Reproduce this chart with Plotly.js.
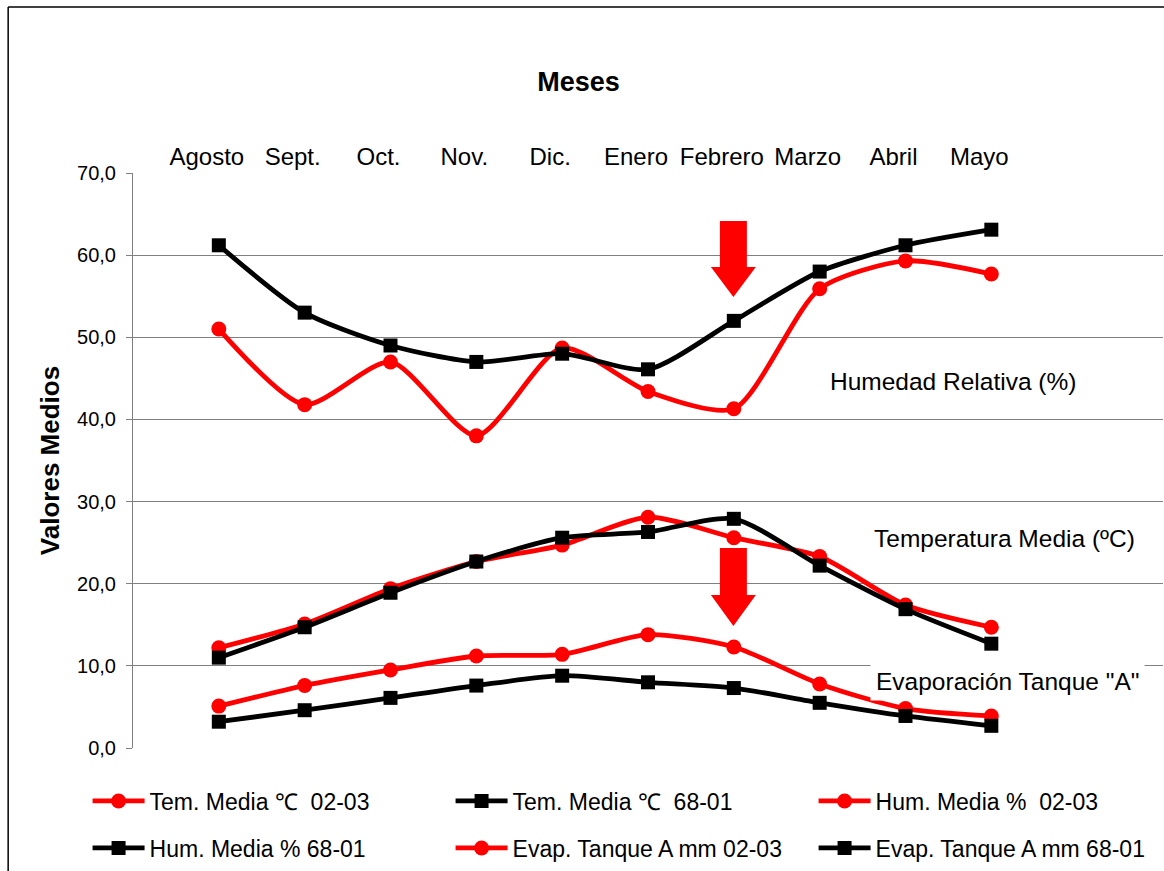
<!DOCTYPE html>
<html>
<head>
<meta charset="utf-8">
<script src="https://cdn.plot.ly/plotly-3.0.1.min.js"></script>
<style>html,body{margin:0;padding:0;background:#fff;}#chart{width:1164px;height:871px;}</style>
</head>
<body>
<div id="chart"></div>
<script>
const months = ["Agosto","Sept.","Oct.","Nov.","Dic.","Enero","Febrero","Marzo","Abril","Mayo"];
const temMedia0203 = [12.2, 15.1, 19.4, 22.7, 24.7, 28.1, 25.6, 23.3, 17.4, 14.7];
const temMedia6801 = [11.0, 14.7, 18.9, 22.7, 25.6, 26.3, 27.9, 22.2, 16.9, 12.7];
const humMedia0203 = [51.0, 41.8, 47.0, 38.0, 48.7, 43.4, 41.3, 55.9, 59.3, 57.7];
const humMedia6801 = [61.2, 53.0, 49.0, 47.0, 48.0, 46.1, 52.0, 58.0, 61.2, 63.1];
const evap0203 = [5.1, 7.6, 9.5, 11.2, 11.4, 13.8, 12.3, 7.8, 4.8, 3.9];
const evap6801 = [3.2, 4.6, 6.1, 7.6, 8.8, 8.0, 7.3, 5.5, 3.9, 2.7];
const seriesNames = ["Tem. Media ℃  02-03","Tem. Media ℃  68-01","Hum. Media %  02-03","Hum. Media % 68-01","Evap. Tanque A mm 02-03","Evap. Tanque A mm 68-01"];
const labels = ["Humedad Relativa (%)","Temperatura Media (ºC)","Evaporación Tanque \"A\""];

const RED = "#ff0000", BLACK = "#000000";
const font = "Liberation Sans, Arial, sans-serif";

function tr(y, name, color, sym, leg){
  return {
    x: months, y: y, name: name, type: "scatter", mode: "lines+markers", legend: leg,
    line: {color: color, width: 4.8, shape: "spline", smoothing: 0.7},
    marker: {color: color, symbol: sym, size: sym === "circle" ? 15 : 14, line:{width:0}},
    hoverinfo: "x+y+name"
  };
}
const data = [
  tr(temMedia0203, seriesNames[0], RED, "circle", "legend"),
  tr(temMedia6801, seriesNames[1], BLACK, "square", "legend"),
  tr(humMedia0203, seriesNames[2], RED, "circle", "legend"),
  tr(humMedia6801, seriesNames[3], BLACK, "square", "legend2"),
  tr(evap0203, seriesNames[4], RED, "circle", "legend2"),
  tr(evap6801, seriesNames[5], BLACK, "square", "legend2"),
  {x: months, y: months.map(() => null), xaxis: "x2", yaxis: "y", showlegend: false, hoverinfo: "skip", mode: "markers"}
];

function arrow(xc, top, base, tip){
  const s = 0.0131, h = 0.0218;
  return {type:"path", xref:"paper", yref:"y", fillcolor:RED, line:{width:0},
    path:`M ${xc-s},${top} L ${xc+s},${top} L ${xc+s},${base} L ${xc+h},${base} L ${xc},${tip} L ${xc-h},${base} L ${xc-s},${base} Z`};
}

const legendBase = {orientation: "h", x: -0.0441, xanchor: "left", yref: "paper", yanchor: "middle",
  itemwidth: 52, entrywidth: 296, entrywidthmode: "pixels", font: {family: font, size: 23, color: "#000"}, bgcolor: "rgba(0,0,0,0)"};

const layout = {
  width: 1164, height: 871,
  margin: {l: 133, r: 1, t: 173, b: 123, autoexpand: false},
  paper_bgcolor: "#fff", plot_bgcolor: "#fff",
  separators: ",.",
  showlegend: true,
  title: {text: "<b>Meses</b>", font: {family: font, size: 27, color: "#000"}, x: 0.497, xref: "container", y: 0.906, yref: "container", yanchor: "middle"},
  xaxis: {type: "category", categoryarray: months, range: [-1, 11], visible: false, fixedrange: true},
  xaxis2: {type: "category", categoryarray: months, overlaying: "x", side: "top", anchor: "y", range: [-0.86, 11.14],
    showgrid: false, showline: false, ticks: "", tickangle: 0, ticklabelstandoff: 2,
    tickfont: {family: font, size: 24, color: "#000"}, fixedrange: true},
  yaxis: {range: [0, 70], dtick: 10, tickformat: ".1f", showgrid: true, gridcolor: "#808080", gridwidth: 1,
    zeroline: false, showline: true, linecolor: "#808080", linewidth: 1, ticks: "outside", ticklen: 6, tickcolor: "#808080",
    ticklabelstandoff: 6,
    tickfont: {family: font, size: 20, color: "#000"},
    title: {text: "<b>Valores Medios</b>", font: {family: font, size: 26, color: "#000"}, standoff: 9}, fixedrange: true},
  legend: Object.assign({}, legendBase, {y: (748 - 801) / 575}),
  legend2: Object.assign({}, legendBase, {y: (748 - 848) / 575}),
  annotations: [
    {text: labels[0], xref: "paper", yref: "paper", x: 0.796, y: 0.638, xanchor: "center", yanchor: "middle", showarrow: false, font: {family: font, size: 24.5, color: "#000"}},
    {text: labels[1], xref: "paper", yref: "paper", x: 0.846, y: 0.365, xanchor: "center", yanchor: "middle", showarrow: false, font: {family: font, size: 24.5, color: "#000"}},
    {text: labels[2], xref: "paper", yref: "paper", x: 0.849, y: 0.115, xanchor: "center", yanchor: "middle", showarrow: false, bgcolor: "#fff", borderpad: 5, font: {family: font, size: 24.5, color: "#000"}}
  ],
  shapes: [
    arrow(0.5829, 64.16, 58.56, 54.9),
    arrow(0.5829, 24.35, 18.63, 14.85),
    {type: "line", xref: "paper", yref: "paper", x0: -0.1212, x1: 1.05, y0: 1.2887, y1: 1.2887, line: {color: "#000", width: 1.5}},
    {type: "line", xref: "paper", yref: "paper", x0: -0.1212, x1: -0.1212, y0: 1.2887, y1: -0.26, line: {color: "#000", width: 1.5}}
  ]
};

Plotly.newPlot("chart", data, layout, {displayModeBar: false});
</script>
</body>
</html>
